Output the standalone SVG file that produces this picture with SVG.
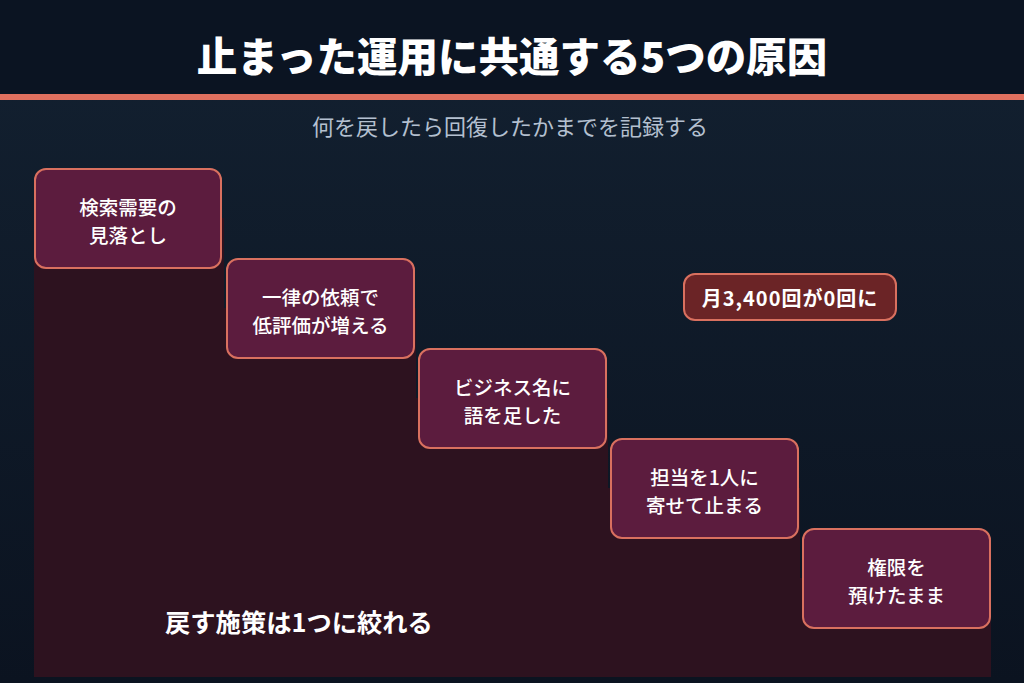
<svg xmlns="http://www.w3.org/2000/svg" width="1024" height="683" viewBox="0 0 1024 683">
<defs>
<linearGradient id="bg" x1="0" y1="0" x2="0" y2="1">
<stop offset="0" stop-color="#132131"/>
<stop offset="1" stop-color="#0b1320"/>
</linearGradient>
<style>
.box{fill:#5c1c3e;stroke:#d9705f;stroke-width:2}
.bt{font-family:"Noto Sans CJK JP","Noto Sans",sans-serif;font-size:19.5px;font-weight:500;fill:#ffffff;text-anchor:middle;dominant-baseline:central}
</style>
</defs>
<rect x="0" y="0" width="1024" height="683" fill="url(#bg)"/>
<rect x="0" y="0" width="1024" height="95" fill="#0b1422"/>
<rect x="0" y="94" width="1024" height="6" fill="#e0705f"/>
<text x="512" y="54" font-family="'Noto Sans CJK JP','Noto Sans',sans-serif" font-size="40.5" font-weight="900" fill="#ffffff" text-anchor="middle" dominant-baseline="central">止まった運用に共通する5つの原因</text>
<text x="510" y="125" font-family="'Noto Sans CJK JP','Noto Sans',sans-serif" font-size="22" fill="#b4c0d0" text-anchor="middle" dominant-baseline="central">何を戻したら回復したかまでを記録する</text>
<path d="M34,218 H224 V308 H416 V398 H608 V488 H800 V578 H991 V677 H34 Z" fill="#2d121f"/>
<g id="connectors"></g>
<g id="n1"><rect class="box" x="35" y="169" width="186" height="99" rx="11"/><text class="bt" x="128" y="206">検索需要の</text><text class="bt" x="128" y="234">見落とし</text></g>
<g id="n2"><rect class="box" x="227" y="259" width="187" height="99" rx="11"/><text class="bt" x="320.5" y="296">一律の依頼で</text><text class="bt" x="320.5" y="324">低評価が増える</text></g>
<g id="n3"><rect class="box" x="419" y="349" width="187" height="99" rx="11"/><text class="bt" x="512.5" y="386">ビジネス名に</text><text class="bt" x="512.5" y="414">語を足した</text></g>
<g id="n4"><rect class="box" x="611" y="439" width="187" height="99" rx="11"/><text class="bt" x="704.5" y="476">担当を1人に</text><text class="bt" x="704.5" y="504">寄せて止まる</text></g>
<g id="n5"><rect class="box" x="803" y="529" width="187" height="99" rx="11"/><text class="bt" x="896.5" y="566">権限を</text><text class="bt" x="896.5" y="594">預けたまま</text></g>
<g id="callout"><rect x="684" y="274" width="212" height="46" rx="11" fill="#6b2426" stroke="#d9705f" stroke-width="2"/><text x="790" y="297" font-family="'Noto Sans CJK JP','Noto Sans',sans-serif" font-size="20" font-weight="700" letter-spacing="1" fill="#ffffff" text-anchor="middle" dominant-baseline="central">月3,400回が0回に</text></g>
<g id="summary"><text x="165" y="621" font-family="'Noto Sans CJK JP','Noto Sans',sans-serif" font-size="25.3" font-weight="700" fill="#ffffff" dominant-baseline="central">戻す施策は1つに絞れる</text></g>
</svg>
